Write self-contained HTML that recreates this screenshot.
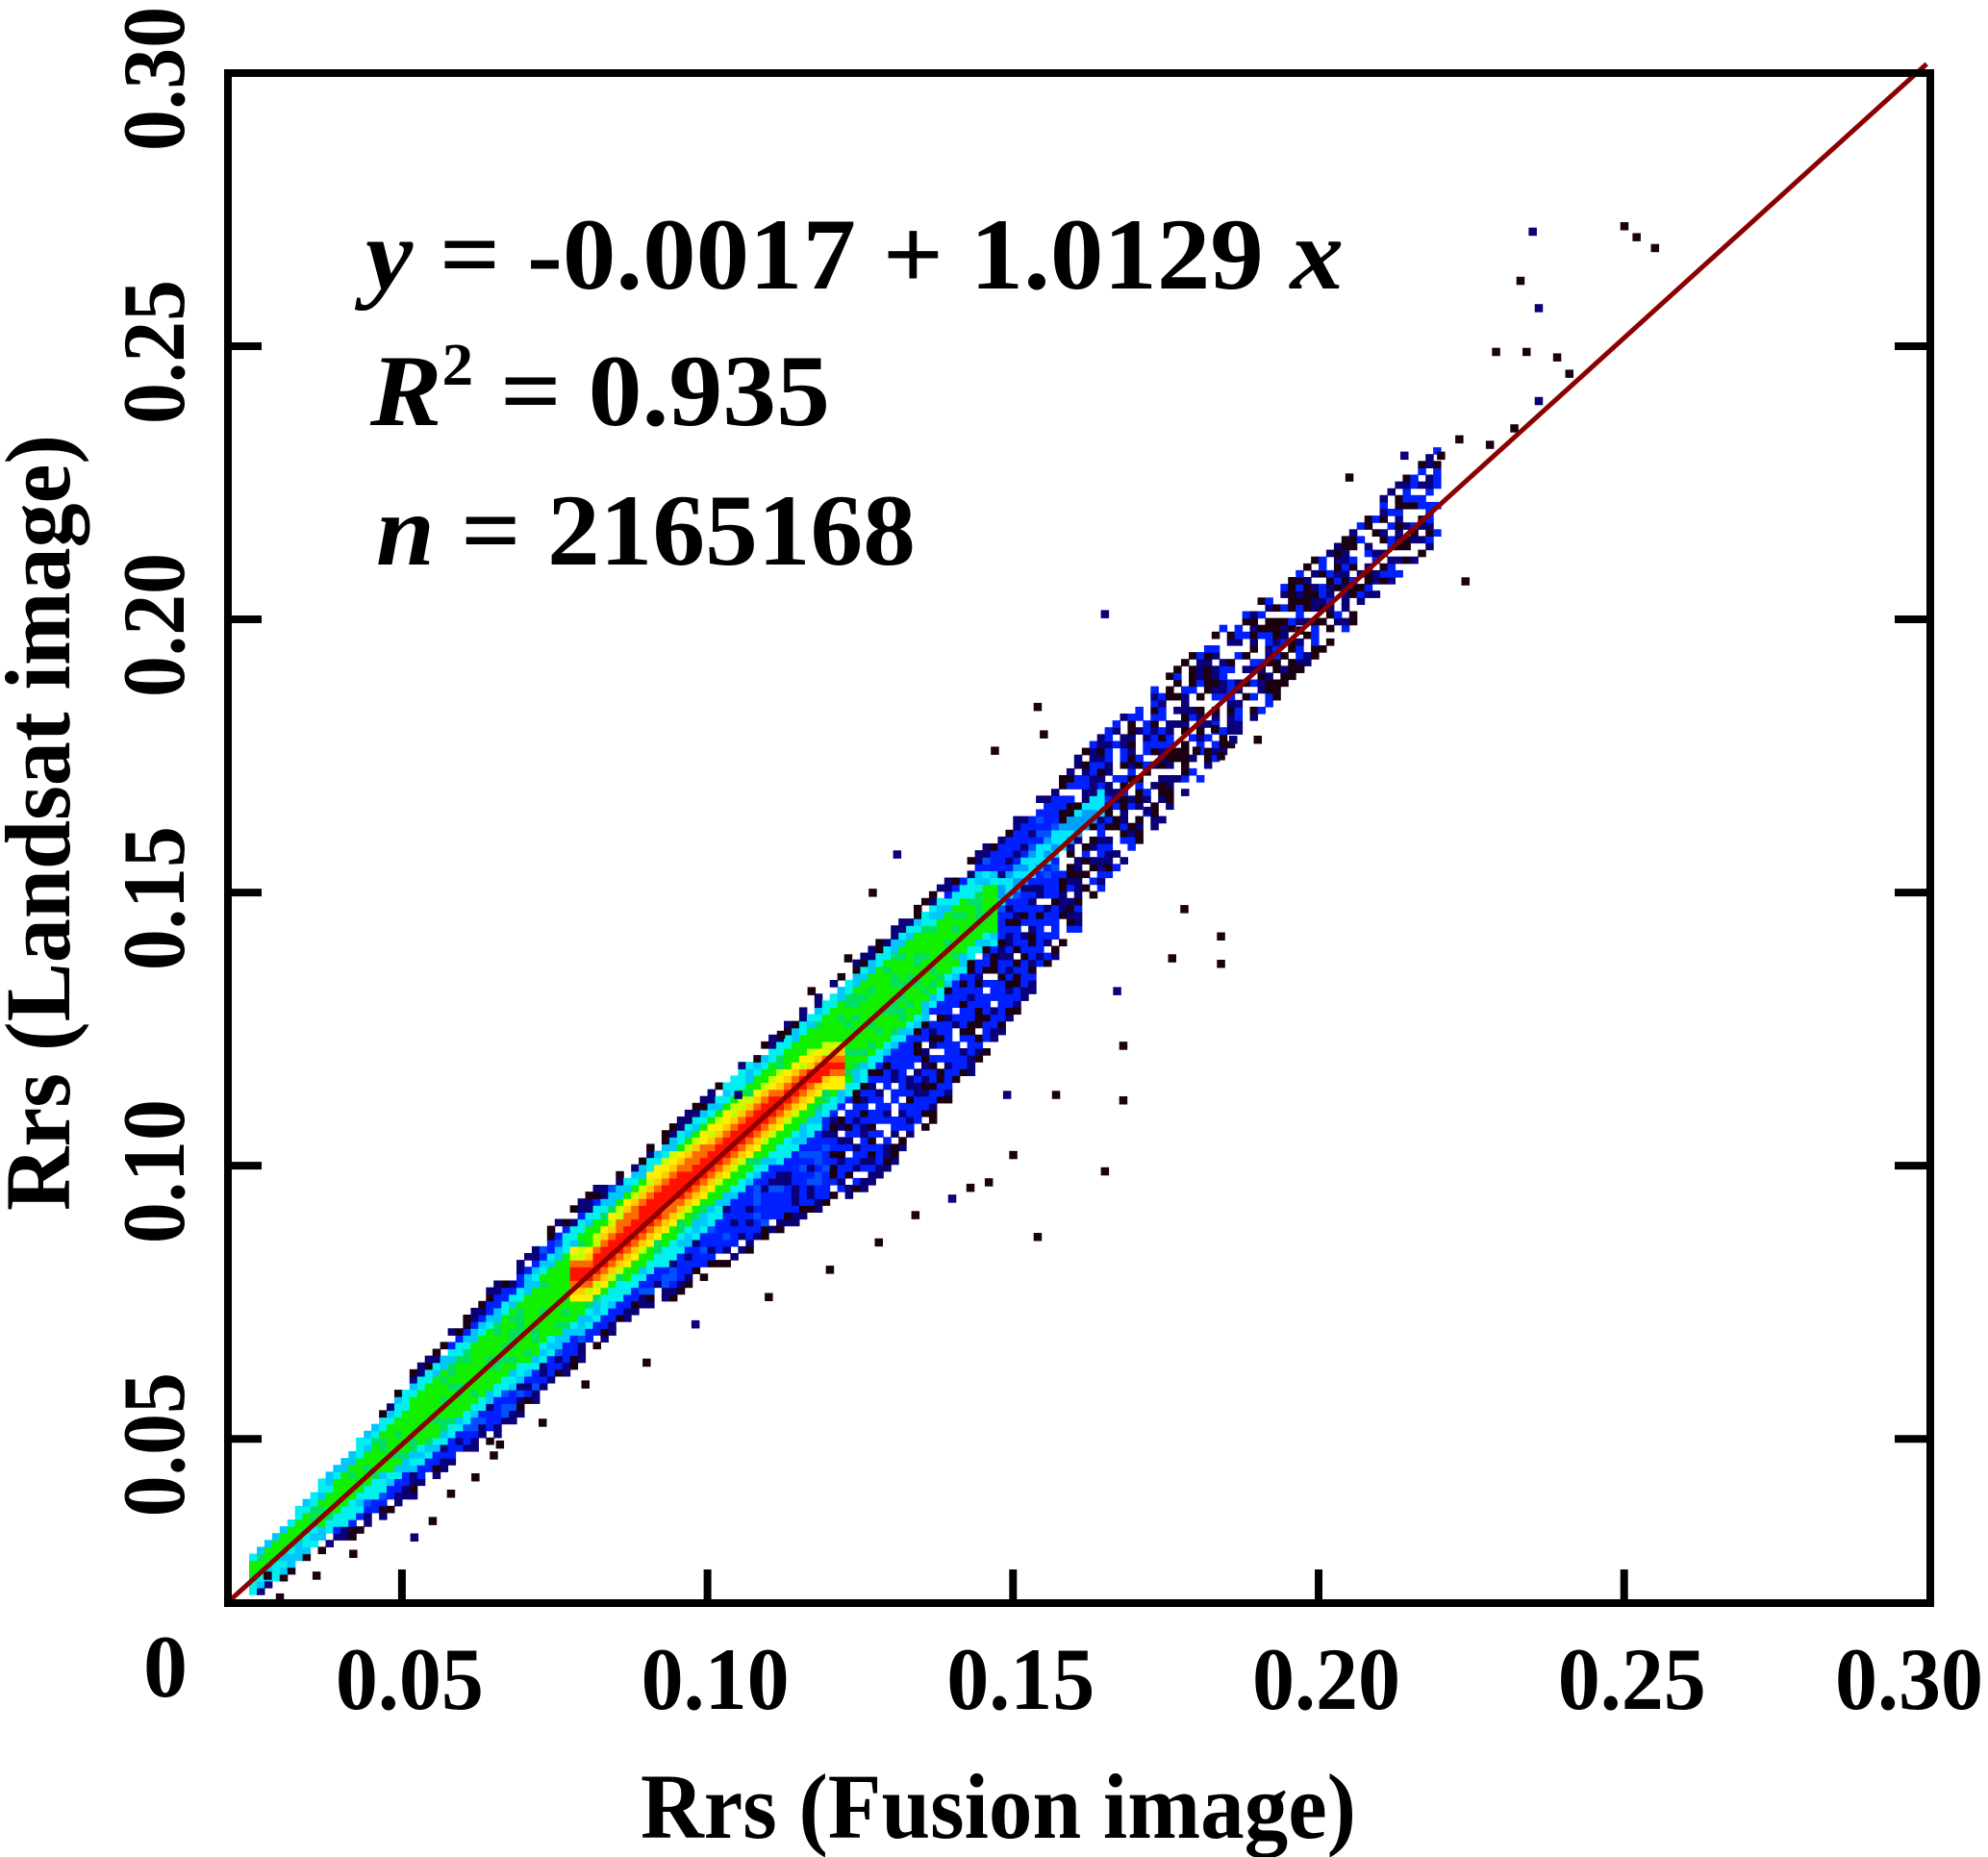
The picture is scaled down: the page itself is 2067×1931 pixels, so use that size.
<!DOCTYPE html>
<html><head><meta charset="utf-8"><style>
html,body{margin:0;padding:0;background:#fff;}
svg{display:block;}
text{font-family:"Liberation Serif",serif;font-weight:bold;fill:#000;}
</style></head><body>
<svg id="chart" width="2067" height="1931" viewBox="0 0 2067 1931">
<g id="cells"></g>
<g id="pts"></g>
<line id="fit" stroke="#8b0000" stroke-width="5"/>
<rect x="237" y="76" width="1770" height="1591" fill="none" stroke="#000" stroke-width="8"/>
<g id="ticks"></g>
<g id="xlabels"></g>
<g id="ylabels"></g>
<text x="172" y="1764" font-size="92" text-anchor="middle">0</text>
<text x="666" y="1911" font-size="96" textLength="744" lengthAdjust="spacingAndGlyphs">Rrs (Fusion image)</text>
<text transform="translate(72,1259) rotate(-90)" font-size="96" textLength="807" lengthAdjust="spacingAndGlyphs">Rrs (Landsat image)</text>
<text x="380" y="300" font-size="106" textLength="1017" lengthAdjust="spacingAndGlyphs"><tspan font-style="italic">y</tspan> = -0.0017 + 1.0129 <tspan font-style="italic">x</tspan></text>
<text x="385" y="442" font-size="106" textLength="478" lengthAdjust="spacingAndGlyphs"><tspan font-style="italic">R</tspan><tspan font-size="62" dy="-42">2</tspan><tspan dy="42"> = 0.935</tspan></text>
<text x="391" y="587" font-size="106" textLength="561" lengthAdjust="spacingAndGlyphs"><tspan font-style="italic">n</tspan> = 2165168</text>
</svg>
<script>
const bandX   = [0.025,0.03,0.035,0.04,0.045,0.05,0.055,0.06,0.065,0.07,0.075,0.08,0.085,0.09,0.095,0.10,0.105,0.11,0.115,0.12,0.125,0.13,0.135,0.14,0.145,0.15,0.155,0.16,0.165,0.17,0.175,0.18,0.185,0.19,0.195,0.20,0.205,0.21,0.215,0.22];
const outerLo = [0.021,0.024,0.028,0.031,0.034,0.038,0.042,0.046,0.050,0.055,0.060,0.064,0.070,0.074,0.076,0.080,0.083,0.087,0.090,0.092,0.095,0.100,0.106,0.112,0.120,0.127,0.135,0.142,0.152,0.158,0.164,0.170,0.176,0.182,0.188,0.193,0.198,0.205,0.210,0.215];
const outerHi = [0.028,0.033,0.040,0.046,0.052,0.060,0.066,0.072,0.078,0.083,0.090,0.095,0.099,0.104,0.108,0.113,0.118,0.123,0.128,0.133,0.138,0.143,0.148,0.153,0.158,0.163,0.168,0.174,0.180,0.184,0.189,0.194,0.199,0.203,0.207,0.212,0.215,0.222,0.227,0.232];
const greenLo = [0.024,0.028,0.033,0.037,0.042,0.046,0.050,0.055,0.060,0.064,0.069,0.073,0.078,0.082,0.087,0.092,0.097,0.102,0.107,0.112,0.118,0.124,0.129,0.136,0.143,null,null,null,null,null,null,null,null,null,null,null,null,null,null,null];
const greenHi = [0.027,0.032,0.037,0.043,0.049,0.055,0.061,0.066,0.071,0.076,0.082,0.088,0.093,0.098,0.103,0.108,0.114,0.118,0.123,0.128,0.133,0.138,0.143,0.147,0.151,null,null,null,null,null,null,null,null,null,null,null,null,null,null,null];
const redLo   = [null,null,null,null,null,null,null,null,null,null,null,0.077,0.081,0.086,0.091,0.096,0.101,0.106,0.111,0.116,null,null,null,null,null,null,null,null,null,null,null,null,null,null,null,null,null,null,null,null];
const redHi   = [null,null,null,null,null,null,null,null,null,null,null,0.083,0.090,0.096,0.101,0.105,0.110,0.114,0.118,0.121,null,null,null,null,null,null,null,null,null,null,null,null,null,null,null,null,null,null,null,null];
const ptX = [0.165,0.154,0.147,0.155,0.183,0.186,0.190,0.184,0.180,0.175,0.172,0.178,0.184,0.176,0.184,0.167,0.168,0.168,0.165,0.154,0.149,0.150,0.157,0.146,0.143,0.140,0.134,0.128,0.120,0.110,0.098,0.090,0.080,0.073,0.066,0.131,0.127,0.123,0.117,0.112,0.105,0.224,0.197,0.197,0.205,0.214,0.220,0.223,0.228,0.232,0.236,0.241,0.229,0.234,0.239,0.235,0.250,0.252,0.255,0.233,0.236,0.030,0.028,0.036,0.042,0.052,0.055,0.058,0.062,0.065];
const ptY = [0.201,0.184,0.176,0.179,0.180,0.178,0.178,0.175,0.176,0.169,0.165,0.147,0.142,0.138,0.137,0.132,0.122,0.112,0.099,0.087,0.113,0.102,0.113,0.097,0.096,0.094,0.091,0.086,0.081,0.076,0.071,0.064,0.060,0.053,0.049,0.157,0.150,0.138,0.132,0.124,0.113,0.207,0.191,0.198,0.226,0.230,0.230,0.233,0.232,0.235,0.240,0.245,0.249,0.249,0.248,0.271,0.272,0.270,0.268,0.262,0.257,0.021,0.025,0.025,0.029,0.032,0.035,0.040,0.043,0.047];
const xTicks = [0.05,0.10,0.15,0.20,0.25,0.30];
const yTicks = [0.05,0.10,0.15,0.20,0.25,0.30];
const xTickLabels = ["0.05","0.10","0.15","0.20","0.25","0.30"];
const yTickLabels = ["0.05","0.10","0.15","0.20","0.25","0.30"];
const fitA = -0.0017, fitB = 1.0129;

const NS="http://www.w3.org/2000/svg";
function sx(v){return 417.9+(v-0.05)*6354;}
function sy(v){return 1496.2-(v-0.05)*5681;}
function interp(arr,x){
  for(let i=0;i<bandX.length-1;i++){
    if(x>=bandX[i]&&x<=bandX[i+1]){
      const a=arr[i],b=arr[i+1];
      if(a==null||b==null) return a!=null&&x-bandX[i]<0.0025?a:(b!=null&&bandX[i+1]-x<0.0025?b:null);
      return a+(b-a)*(x-bandX[i])/(bandX[i+1]-bandX[i]);
    }
  }
  return null;
}
function tex(i,j){return (((i*92821)^(j*68917))+i*j*31)%100;}
const DARK='#1a0010',NAVY='#0a0078',BLUE='#0020ff';
function cellColor(x,y,i,j){
  const lo=interp(outerLo,x),hi=interp(outerHi,x);
  if(lo==null||y<lo||y>hi) return null;
  const h=tex(i,j);
  const rl=interp(redLo,x),rh=interp(redHi,x);
  if(rl!=null&&rh!=null&&y>=rl&&y<=rh){
    const m=(rl+rh)/2, d=Math.abs(y-m)/(rh-rl);
    return d<0.2?'#ff1000':(d<0.38?'#ff6a00':'#ffcc00');
  }
  const gl=interp(greenLo,x),gh=interp(greenHi,x);
  if(gl!=null&&gh!=null){
    if(y>=gl&&y<=gh){
      if(rl!=null&&rh!=null&&(Math.abs(y-rl)<0.0018||Math.abs(y-rh)<0.0018)) return h<50?'#c8ff00':'#ffee00';
      return h<20?'#00e060':'#10f000';
    }
    if(y>gl-0.003&&y<gh+0.003) return h<40?'#00c8ff':'#00f0f0';
  } else if(x<0.165 && Math.abs(y-(x+0.002))<0.003){
    return h<45?'#00a0ff':'#00e8ff';
  }
  if(x>0.158){
    if(h<28) return null;
    if(h<52) return DARK;
    if(h<78) return NAVY;
    return BLUE;
  }
  if(y-lo<0.0025||hi-y<0.0025){
    if(h<30) return null;
    if(h<62) return DARK;
    return NAVY;
  }
  if(x>0.12 && y<x-0.004){
    if(h<12) return null;
    if(h<28) return DARK;
    if(h<45) return NAVY;
  }
  if(h<15) return NAVY;
  if(h<30) return '#0050ff';
  return BLUE;
}
const cells=document.getElementById('cells');
const step=0.00125, cw=step*6354, ch=step*5681;
for(let i=0;i<160;i++){
  const x=0.0225+i*step;
  if(x>0.222) break;
  for(let j=0;j<175;j++){
    const y=0.019+j*step;
    const c=cellColor(x+step/2,y+step/2,i,j);
    if(!c) continue;
    const r=document.createElementNS(NS,'rect');
    
    
    r.setAttribute('x',sx(x).toFixed(1));r.setAttribute('y',(sy(y)-ch).toFixed(1));
    r.setAttribute('width',(cw+0.6).toFixed(1));r.setAttribute('height',(ch+0.6).toFixed(1));
    r.setAttribute('fill',c);cells.appendChild(r);
  }
}
const pts=document.getElementById('pts');
for(let i=0;i<ptX.length;i++){
  const r=document.createElementNS(NS,'rect');
  
  
  r.setAttribute('x',(sx(ptX[i])-4).toFixed(1));r.setAttribute('y',(sy(ptY[i])-4).toFixed(1));
  r.setAttribute('width',8.5);r.setAttribute('height',8.5);
  r.setAttribute('fill',i%5==0?NAVY:DARK);pts.appendChild(r);
}
const fit=document.getElementById('fit');
const x0=0.0215,x1=0.2995;
fit.setAttribute('x1',sx(x0));fit.setAttribute('y1',sy(fitA+fitB*x0));
fit.setAttribute('x2',sx(x1));fit.setAttribute('y2',sy(fitA+fitB*x1));
const ticks=document.getElementById('ticks');
function ln(x1,y1,x2,y2){const l=document.createElementNS(NS,'line');
  
  
  l.setAttribute('x1',x1);l.setAttribute('y1',y1);l.setAttribute('x2',x2);l.setAttribute('y2',y2);
  l.setAttribute('stroke','#000');l.setAttribute('stroke-width',8);ticks.appendChild(l);}
xTicks.forEach(v=>{if(v<0.299) ln(sx(v),1667,sx(v),1632);});
yTicks.forEach(v=>{if(v<0.299){ln(237,sy(v),272,sy(v));ln(2007,sy(v),1970,sy(v));}});
const xl=document.getElementById('xlabels');
xTicks.forEach((v,i)=>{const t=document.createElementNS(NS,'text');
  
  
  t.setAttribute('x',Math.min(sx(v)+8,1985));t.setAttribute('y',1777);t.setAttribute('font-size',92);
  t.setAttribute('text-anchor','middle');t.setAttribute('textLength',154);t.setAttribute('lengthAdjust','spacingAndGlyphs');
  t.textContent=xTickLabels[i];xl.appendChild(t);});
const yl=document.getElementById('ylabels');
yTicks.forEach((v,i)=>{const t=document.createElementNS(NS,'text');
  
  
  t.setAttribute('transform','translate(191,'+(sy(v)+6)+') rotate(-90)');t.setAttribute('font-size',92);
  t.setAttribute('text-anchor','middle');t.setAttribute('textLength',150);t.setAttribute('lengthAdjust','spacingAndGlyphs');
  t.textContent=yTickLabels[i];yl.appendChild(t);});
</script>
</body></html>
